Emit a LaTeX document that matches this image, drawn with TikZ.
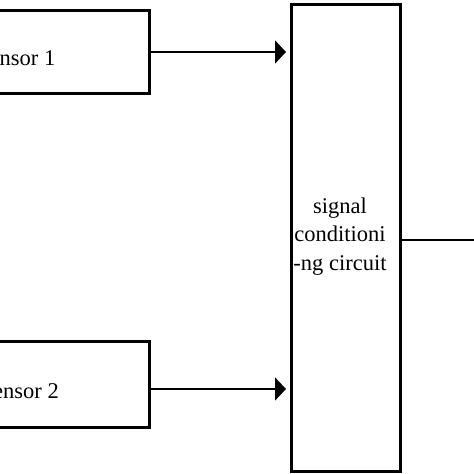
\documentclass[tikz,border=0pt]{standalone}
\usepackage{fontspec}
\setmainfont{Liberation Serif}
\usetikzlibrary{arrows.meta}
\begin{document}
\begin{tikzpicture}[x=1pt,y=-1pt,
  blk/.style={draw=black, line width=3pt, rectangle, inner sep=0pt, outer sep=0pt},
  lbl/.style={inner sep=0pt, font=\fontsize{22.5}{28.5}\selectfont},
  conn/.style={draw=black, line width=1.3pt, shorten >=5pt, -{Triangle[length=11pt,width=23pt]}},
  wire/.style={draw=black, line width=1.3pt}]
\useasboundingbox (0,0) rectangle (474,474);
\node[blk, minimum width=266pt, minimum height=83pt] (s1) at (16,52) {};
\node[blk, minimum width=266pt, minimum height=86pt] (s2) at (16,384.5) {};
\node[blk, minimum width=109pt, minimum height=467pt] (sc) at (345.5,238.2) {};
\node[lbl, anchor=base east] (t1) at (55.5,65) {Sensor 1};
\node[lbl, anchor=base east] (t2) at (59,398) {Sensor 2};
\node[lbl, align=center] (t3) at (340,236.3) {signal\\conditioni\\-ng circuit};
\path (s2.east) ++(0,4.5) coordinate (a2s);
\coordinate (out) at (480,240);
\draw[conn] (s1.east) -- (s1.east -| sc.west);
\draw[conn] (a2s) -- (a2s -| sc.west);
\draw[wire] (sc.east |- out) -- (out);
\end{tikzpicture}
\end{document}
